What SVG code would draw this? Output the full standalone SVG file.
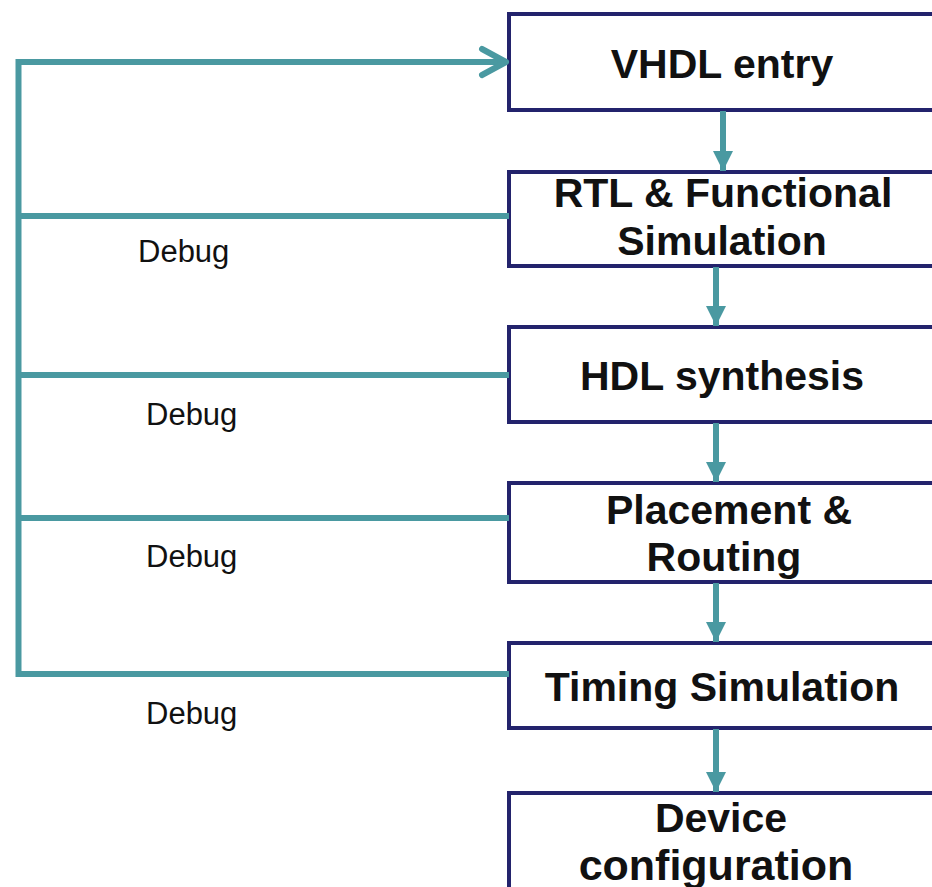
<svg xmlns="http://www.w3.org/2000/svg" width="932" height="887" viewBox="0 0 932 887">
  <style>
    .box { fill: #ffffff; stroke: #23236c; stroke-width: 4; }
    .label { font-family: "Liberation Sans", Arial, sans-serif; font-weight: bold; font-size: 41px; fill: #111111; text-anchor: middle; }
    .debug { font-family: "Liberation Sans", Arial, sans-serif; font-size: 31px; fill: #111111; }
    .wire { fill: none; stroke: #4a99a1; stroke-width: 6; }
    .flow { fill: none; stroke: #4a99a1; stroke-width: 6; }
  </style>
  <defs>
    <marker id="tri" viewBox="0 0 20 20" refX="20" refY="10" markerWidth="20" markerHeight="20" markerUnits="userSpaceOnUse" orient="auto">
      <path d="M0,0 L20,10 L0,20 Z" fill="#4a99a1"/>
    </marker>
  </defs>
  <rect width="932" height="887" fill="#ffffff"/>

  <!-- process steps -->
  <g id="vhdl-entry">
    <rect class="box" x="509" y="14" width="440" height="96"/>
    <text class="label" x="722" y="78">VHDL entry</text>
  </g>
  <g id="rtl-sim">
    <rect class="box" x="509" y="172" width="440" height="94"/>
    <text class="label" x="723" y="207">RTL &amp; Functional</text>
    <text class="label" x="722" y="255">Simulation</text>
  </g>
  <g id="hdl-synthesis">
    <rect class="box" x="509" y="327" width="440" height="95"/>
    <text class="label" x="722" y="390">HDL synthesis</text>
  </g>
  <g id="place-route">
    <rect class="box" x="509" y="483" width="440" height="99"/>
    <text class="label" x="729" y="524">Placement &amp;</text>
    <text class="label" x="724" y="571">Routing</text>
  </g>
  <g id="timing-sim">
    <rect class="box" x="509" y="643" width="440" height="85"/>
    <text class="label" x="722" y="701">Timing Simulation</text>
  </g>
  <g id="device-config">
    <rect class="box" x="509" y="793" width="440" height="120"/>
    <text class="label" x="721" y="832">Device</text>
    <text class="label" x="716" y="880" style="font-size:43px">configuration</text>
  </g>

  <!-- connectors -->
  <g id="connectors">
    <line class="flow" x1="723" y1="111" x2="723" y2="171" marker-end="url(#tri)"/>
    <line class="flow" x1="716" y1="267" x2="716" y2="326" marker-end="url(#tri)"/>
    <line class="flow" x1="716" y1="423" x2="716" y2="482" marker-end="url(#tri)"/>
    <line class="flow" x1="716" y1="583" x2="716" y2="642" marker-end="url(#tri)"/>
    <line class="flow" x1="716" y1="729" x2="716" y2="792" marker-end="url(#tri)"/>

    <!-- debug feedback loop -->
    <path class="wire" d="M509,216 H18.5 M509,375 H18.5 M509,518 H18.5 M509,674 H18.5 M18.5,677 V62 H506"/>
    <path class="wire" d="M482,49 L506,62 L482,75" stroke-linecap="round" stroke-linejoin="round"/>
  </g>

  <!-- loop labels -->
  <g id="debug-labels">
    <text class="debug" x="138" y="262">Debug</text>
    <text class="debug" x="146" y="425">Debug</text>
    <text class="debug" x="146" y="567">Debug</text>
    <text class="debug" x="146" y="724">Debug</text>
  </g>
</svg>
